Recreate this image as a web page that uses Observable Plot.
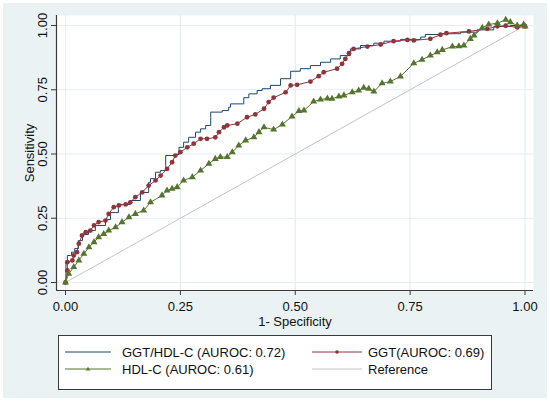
<!DOCTYPE html>
<html><head><meta charset="utf-8">
<script src="https://cdn.jsdelivr.net/npm/d3@7"></script>
<script src="https://cdn.jsdelivr.net/npm/@observablehq/plot@0.6"></script>
<style>
body{margin:0;background:#fff;}
#wrap{position:relative;width:550px;height:402px;background:#fff;overflow:hidden;font-family:"Liberation Sans",Arial,sans-serif;}
#bg{position:absolute;left:3px;top:3px;width:544px;height:395px;background:#eaf2f3;}
#chart{position:absolute;left:0;top:0;}
#legend{position:absolute;left:58px;top:335px;width:432px;height:53px;background:#fff;border:1px solid #3a3a3a;}
.item{position:absolute;height:16px;display:flex;align-items:center;font-size:13px;color:#111;white-space:nowrap;}
.item svg{display:block;}
</style></head>
<body>
<div id="wrap"><div id="bg"></div><div id="chart"></div><div id="legend"></div></div>
<script>
// ---- data ----
const ticks = [0, 0.25, 0.5, 0.75, 1];
const tickLabels = ["0.00", "0.25", "0.50", "0.75", "1.00"];
const xDomain = [-0.0196, 1.0185];
const yDomain = [-0.0311, 1.0389];
const seriesNames = ["GGT/HDL-C (AUROC: 0.72)", "GGT(AUROC: 0.69)", "HDL-C (AUROC: 0.61)", "Reference"];
const seriesColors = ["#1a476f", "#90353b", "#55752f", "#c4c4c4"];

const ggtHdlX = [0,0.001,0.004,0.011,0.013,0.020,0.028,0.037,0.050,0.065,0.087,0.098,0.115,0.141,0.163,0.181,0.185,0.196,0.207,0.218,0.218,0.236,0.247,0.257,0.268,0.283,0.294,0.305,0.316,0.316,0.341,0.355,0.359,0.388,0.399,0.417,0.428,0.446,0.468,0.490,0.511,0.533,0.555,0.577,0.598,0.620,0.642,0.671,0.693,0.729,0.773,0.783,0.816,0.860,0.896,0.932,0.968,1.0];
const ggtHdlY = [0,0.078,0.105,0.105,0.118,0.132,0.163,0.187,0.202,0.222,0.245,0.272,0.304,0.319,0.350,0.390,0.404,0.429,0.436,0.455,0.494,0.498,0.526,0.546,0.565,0.585,0.598,0.611,0.643,0.663,0.669,0.682,0.695,0.719,0.734,0.747,0.754,0.767,0.793,0.822,0.832,0.844,0.857,0.870,0.883,0.909,0.922,0.931,0.939,0.946,0.955,0.965,0.968,0.974,0.983,0.996,1.0,1.0];

const ggtX = [0,0.004,0.004,0.015,0.018,0.025,0.029,0.036,0.044,0.054,0.062,0.072,0.087,0.094,0.105,0.116,0.131,0.141,0.152,0.167,0.181,0.196,0.207,0.221,0.232,0.239,0.250,0.265,0.279,0.294,0.308,0.326,0.334,0.345,0.352,0.374,0.395,0.413,0.432,0.442,0.453,0.479,0.490,0.504,0.533,0.551,0.562,0.591,0.602,0.609,0.617,0.627,0.657,0.686,0.714,0.744,0.758,0.794,0.816,0.829,0.878,0.918,0.940,0.958,0.983,1.0];
const ggtY = [0,0.047,0.079,0.086,0.105,0.118,0.151,0.183,0.196,0.202,0.222,0.235,0.241,0.267,0.293,0.300,0.304,0.312,0.332,0.351,0.377,0.397,0.416,0.442,0.468,0.494,0.507,0.526,0.540,0.559,0.559,0.565,0.585,0.604,0.611,0.618,0.643,0.654,0.676,0.702,0.719,0.740,0.767,0.769,0.782,0.803,0.818,0.832,0.851,0.870,0.892,0.909,0.918,0.926,0.939,0.944,0.942,0.948,0.964,0.970,0.977,0.987,0.997,0.999,0.993,0.997];

const hdlX = [0,0.007,0.018,0.029,0.040,0.051,0.062,0.072,0.083,0.094,0.109,0.123,0.138,0.152,0.170,0.185,0.210,0.221,0.232,0.243,0.257,0.276,0.294,0.312,0.326,0.337,0.352,0.363,0.377,0.392,0.410,0.421,0.432,0.453,0.472,0.493,0.508,0.519,0.540,0.555,0.570,0.580,0.595,0.606,0.624,0.638,0.649,0.660,0.671,0.689,0.707,0.729,0.758,0.776,0.794,0.809,0.820,0.842,0.856,0.867,0.881,0.889,0.907,0.921,0.940,0.958,0.968,0.983,0.997,1.0];
const hdlY = [0,0.034,0.060,0.086,0.112,0.137,0.157,0.176,0.189,0.202,0.215,0.235,0.254,0.267,0.280,0.312,0.339,0.358,0.365,0.371,0.397,0.410,0.436,0.462,0.481,0.488,0.488,0.507,0.533,0.553,0.565,0.585,0.604,0.595,0.615,0.646,0.667,0.669,0.704,0.712,0.716,0.715,0.724,0.728,0.740,0.747,0.758,0.754,0.743,0.775,0.782,0.802,0.853,0.867,0.883,0.896,0.905,0.918,0.919,0.922,0.948,0.961,0.991,1.004,1.009,1.022,1.013,1.0,1.004,0.996];

const refX = [0, 1];
const refY = [0, 1];

// ---- build ----
const rows = (xs, ys) => xs.map((x, i) => ({x, y: ys[i]}));
const ggtHdl = rows(ggtHdlX, ggtHdlY);
const ggt = rows(ggtX, ggtY);
const hdl = rows(hdlX, hdlY);
const ref = rows(refX, refY);

const font = '"Liberation Sans", Arial, sans-serif';
const gridColor = "#e6eef1";
const axisColor = "#3a3a3a";
const textColor = "#111";

const chart = Plot.plot({
  width: 550, height: 330,
  marginLeft: 56, marginRight: 17, marginTop: 15, marginBottom: 40,
  x: {domain: xDomain, label: null},
  y: {domain: yDomain, label: null},
  style: {background: "transparent", fontFamily: font, fontSize: "13px", color: textColor},
  marks: [
    Plot.frame({fill: "white", stroke: "none"}),
    Plot.gridX(ticks, {stroke: gridColor, strokeOpacity: 1, strokeWidth: 1.2}),
    Plot.gridY(ticks, {stroke: gridColor, strokeOpacity: 1, strokeWidth: 1.2}),
    Plot.line(ref, {x: "x", y: "y", stroke: seriesColors[3], strokeWidth: 1}),
    Plot.line(ggtHdl, {x: "x", y: "y", stroke: seriesColors[0], strokeWidth: 1, curve: "step-after"}),
    Plot.line(ggt, {x: "x", y: "y", stroke: seriesColors[1], strokeWidth: 1}),
    Plot.dot(ggt, {x: "x", y: "y", r: 2.4, fill: seriesColors[1], stroke: "none"}),
    Plot.line(hdl, {x: "x", y: "y", stroke: seriesColors[2], strokeWidth: 1}),
    Plot.dot(hdl, {x: "x", y: "y", r: 2.6, symbol: "triangle", fill: seriesColors[2], stroke: "none"}),
    Plot.ruleX([xDomain[0]], {stroke: axisColor, strokeWidth: 1.2}),
    Plot.ruleY([yDomain[0]], {stroke: axisColor, strokeWidth: 1.2}),
    Plot.axisX(ticks, {label: null, tickSize: 5, tickPadding: 6, stroke: axisColor, fill: textColor, fontSize: 13, tickFormat: (d) => tickLabels[ticks.indexOf(d)]}),
    Plot.axisY(ticks, {label: null, tickSize: 5, stroke: axisColor, tickFormat: () => ""}),
    Plot.text(ticks, {y: (d) => d, text: (d, i) => tickLabels[i], frameAnchor: "left", dx: -10, rotate: -90, textAnchor: "middle", lineAnchor: "bottom", fontSize: 13, fill: textColor}),
    Plot.text(["Sensitivity"], {text: (d) => d, frameAnchor: "left", dx: -23, rotate: -90, textAnchor: "middle", lineAnchor: "bottom", fontSize: 13, fill: textColor}),
    Plot.text(["1- Specificity"], {text: (d) => d, frameAnchor: "bottom", dy: 35, textAnchor: "middle", lineAnchor: "bottom", fontSize: 13, fill: textColor})
  ]
});
document.getElementById("chart").appendChild(chart);

// ---- legend ----
const legend = document.getElementById("legend");
const layout = [
  {left: 6, top: 8, sw: 46, tx: 63, marker: null},
  {left: 253, top: 8, sw: 50, tx: 309, marker: "dot"},
  {left: 6, top: 25, sw: 46, tx: 63, marker: "tri"},
  {left: 253, top: 25, sw: 50, tx: 309, marker: null}
];
seriesNames.forEach((name, i) => {
  const L = layout[i];
  const c = seriesColors[i];
  const sw = document.createElement("div");
  sw.className = "item";
  sw.style.left = L.left + "px";
  sw.style.top = L.top + "px";
  let m = "";
  if (L.marker === "dot") m = `<circle cx="${L.sw/2}" cy="5" r="1.8" fill="${c}"/>`;
  if (L.marker === "tri") m = `<path d="M${L.sw/2-2.2},6.6L${L.sw/2+2.2},6.6L${L.sw/2},2.8Z" fill="${c}"/>`;
  sw.innerHTML = `<svg width="${L.sw}" height="10"><line x1="0" y1="5" x2="${L.sw}" y2="5" stroke="${c}" stroke-width="1"/>${m}</svg>`;
  legend.appendChild(sw);
  const t = document.createElement("div");
  t.className = "item";
  t.style.left = L.tx + "px";
  t.style.top = L.top + "px";
  t.textContent = name;
  legend.appendChild(t);
});
</script>
</body></html>
